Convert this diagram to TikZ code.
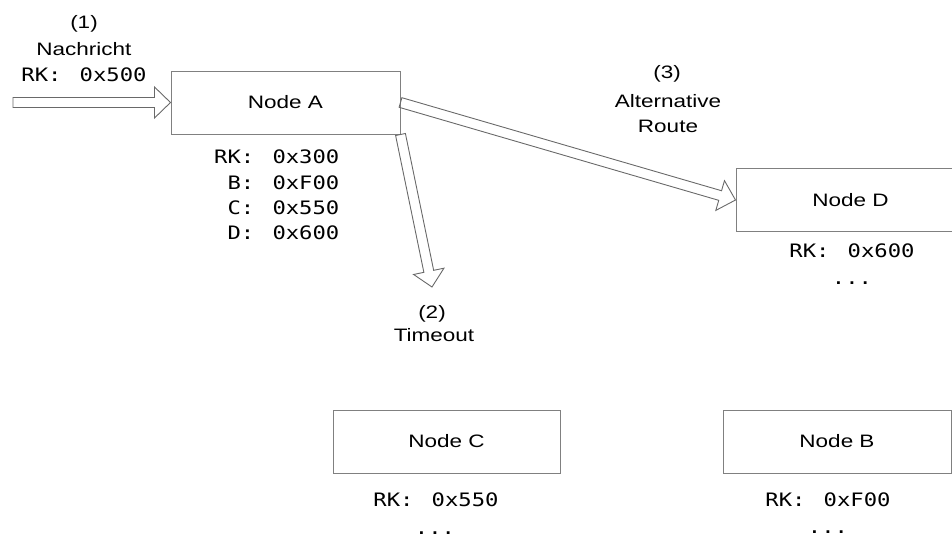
\documentclass[tikz,border=0pt]{standalone}
\usepackage{fontspec}
\setmainfont{Liberation Sans}
\newfontfamily\monof{DejaVu Sans Mono}
\usepackage{graphicx}
\usetikzlibrary{calc}
\definecolor{boxgray}{RGB}{128,128,128}
\definecolor{arrgray}{RGB}{105,105,105}
\newcommand\wx[1]{\scalebox{1.25}[1]{#1}}
\newcommand\wm[1]{\scalebox{1.2}[1]{#1}}
\newcommand\gp{\hspace{0.82em}}
\newcommand\blockarrow[2]{%
  \coordinate (ba-h) at ($(#2)!16pt!(#1)$);
  \draw[arrowline] ($(#1)!5pt!90:(#2)$) -- ($(ba-h)!5pt!90:(#2)$) -- ($(ba-h)!15.5pt!90:(#2)$) -- (#2) -- ($(ba-h)!15.5pt!-90:(#2)$) -- ($(ba-h)!5pt!-90:(#2)$) -- ($(#1)!5pt!-90:(#2)$) -- cycle;}
\begin{document}
\begin{tikzpicture}[x=1pt,y=-1pt,
  nodebox/.style={draw=boxgray, line width=1pt, minimum height=63pt, inner sep=0pt, font=\fontsize{18}{22}\selectfont},
  lbl/.style={inner sep=0pt, anchor=base, font=\fontsize{18}{22}\selectfont},
  code/.style={inner sep=0pt, font=\monof\fontsize{18.5}{22}\selectfont},
  arrowline/.style={draw=arrgray, line width=0.9pt, line join=miter}]
\useasboundingbox (0,0) rectangle (952,538);
\clip (0,0) rectangle (952,538);

% boxes
\node[nodebox, minimum width=229pt] (A) at (285.5,102.5) {\wx{Node A}};
\node[nodebox, minimum width=229pt] (D) at (850.5,200) {\wx{Node D}};
\node[nodebox, minimum width=227pt] (C) at (446.5,441.5) {\wx{Node C}};
\node[nodebox, minimum width=228pt] (B) at (837,441.5) {\wx{Node B}};

% routing table of A
\node[code, anchor=west] (ark) at (214,157) {\wm{RK:\gp 0x300}};
\node[code, anchor=west] (ab) at (214,183) {\wm{\phantom{R}B:\gp 0xF00}};
\node[code, anchor=west] (ac) at (214,208) {\wm{\phantom{R}C:\gp 0x550}};
\node[code, anchor=west] (ad) at (214,233) {\wm{\phantom{R}D:\gp 0x600}};

% tables of D, C, B
\node[code] (drk) at (852,251) {\wm{RK:\gp 0x600}};
\node[code] (ddots) at (852,283) {\wm{...}};
\node[code] (crk) at (436,500) {\wm{RK:\gp 0x550}};
\node[code] (cdots) at (435,533) {\wm{...}};
\node[code] (brk) at (828,500) {\wm{RK:\gp 0xF00}};
\node[code] (bdots) at (828,532) {\wm{...}};

% labels
\node[lbl] (l1a) at (84,28) {\wx{(1)}};
\node[lbl] (l1b) at (84,55) {\wx{Nachricht}};
\node[code] (l1c) at (84,75) {\wm{RK:\gp 0x500}};
\node[lbl] (l3a) at (667,78) {\wx{(3)}};
\node[lbl] (l3b) at (668,107) {\wx{Alternative}};
\node[lbl] (l3c) at (668,132) {\wx{Route}};
\node[lbl] (l2a) at (432,318) {\wx{(2)}};
\node[lbl] (l2b) at (434,341) {\wx{Timeout}};

% arrows
\coordinate (src) at (13,102.5);
\coordinate (tmo) at (432,287);
\blockarrow{src}{A.west}
\blockarrow{A.south east}{tmo}
\blockarrow{A.east}{D.west}
\end{tikzpicture}
\end{document}
